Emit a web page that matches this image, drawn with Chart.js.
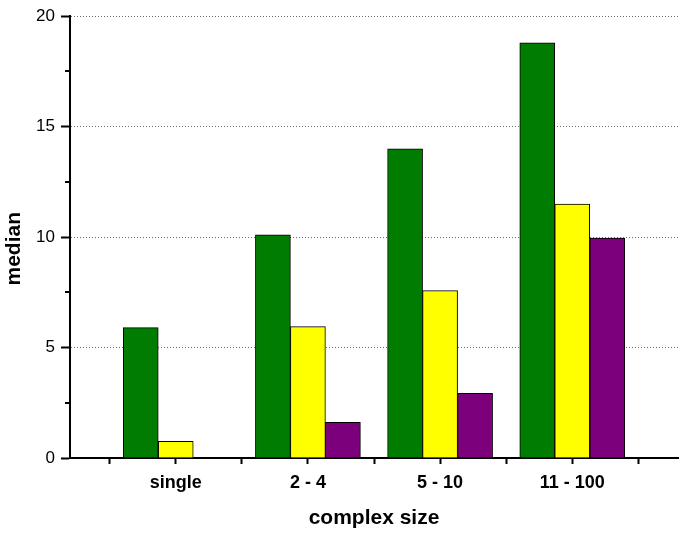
<!DOCTYPE html>
<html>
<head>
<meta charset="utf-8">
<script src="https://cdn.jsdelivr.net/npm/chart.js@4.4.1/dist/chart.umd.min.js"></script>
<style>
  html, body { margin: 0; padding: 0; background: #fff; }
  #wrap { width: 685px; height: 533px; }
</style>
</head>
<body>
<div id="wrap"><canvas id="chart" width="685" height="533"></canvas></div>
<script>
const categories = ['single', '2 - 4', '5 - 10', '11 - 100'];
const greenValues = [5.9, 10.1, 14.0, 18.8];
const yellowValues = [0.75, 5.95, 7.58, 11.5];
const purpleValues = [null, 1.62, 2.93, 9.95];
const yTicks = [0, 5, 10, 15, 20];

const font = 'Liberation Sans';

// category centres and the boundaries between them get tick marks
const xTickValues = [];
categories.forEach((c, i) => { xTickValues.push(i - 0.5, i); });
xTickValues.push(categories.length - 0.5);

function toPoints(values) {
    return values.map((v, i) => ({ x: i, y: v }));
}

const minorTicks = {
    id: 'minorTicks',
    afterDraw(chart) {
        const y = chart.scales.y;
        const ctx = chart.ctx;
        ctx.save();
        ctx.strokeStyle = '#000';
        ctx.lineWidth = 2;
        for (let i = 0; i < yTicks.length - 1; i++) {
            const py = Math.round(y.getPixelForValue((yTicks[i] + yTicks[i + 1]) / 2));
            ctx.beginPath();
            ctx.moveTo(y.right - 5, py);
            ctx.lineTo(y.right, py);
            ctx.stroke();
        }
        ctx.restore();
    }
};

new Chart(document.getElementById('chart'), {
    type: 'bar',
    data: {
        datasets: [
            { label: 'a', data: toPoints(greenValues), backgroundColor: '#007c00', borderColor: '#000', borderWidth: 1 },
            { label: 'b', data: toPoints(yellowValues), backgroundColor: '#ffff00', borderColor: '#000', borderWidth: 1 },
            { label: 'c', data: toPoints(purpleValues), backgroundColor: '#7c007c', borderColor: '#000', borderWidth: 1 }
        ]
    },
    options: {
        responsive: false,
        animation: false,
        barThickness: 35,
        layout: { padding: { top: 12, right: 7, left: 0, bottom: 0 } },
        plugins: {
            legend: { display: false },
            tooltip: { enabled: false }
        },
        scales: {
            x: {
                type: 'linear',
                offset: false,
                min: -0.8,
                max: categories.length - 0.2,
                afterBuildTicks: s => { s.ticks = xTickValues.map(v => ({ value: v })); },
                afterFit: s => { s.height = 75; },
                grid: { offset: false, drawOnChartArea: false, drawTicks: true, tickLength: 6, tickColor: '#000', tickWidth: 2 },
                border: { color: '#000', width: 2 },
                ticks: {
                    autoSkip: false,
                    maxRotation: 0,
                    padding: 8,
                    color: '#000',
                    font: { family: font, size: 18, weight: 'bold' },
                    callback: v => Number.isInteger(v) ? categories[v] : ''
                },
                title: {
                    display: true,
                    text: 'complex size',
                    color: '#000',
                    font: { family: font, size: 21, weight: 'bold' },
                    padding: { top: 0, bottom: 2 }
                }
            },
            y: {
                min: 0,
                max: 20,
                afterBuildTicks: s => { s.ticks = yTicks.map(v => ({ value: v })); },
                afterFit: s => { s.width = 70; },
                grid: {
                    color: c => c.tick && c.tick.value === 0 ? 'rgba(0,0,0,0)' : '#6e6e6e',
                    lineWidth: 1,
                    tickLength: 9,
                    tickColor: '#000',
                    tickWidth: 2,
                    tickBorderDash: []
                },
                border: { color: '#000', width: 2, dash: [1, 2] },
                ticks: {
                    padding: 6,
                    color: '#000',
                    font: { family: font, size: 17 }
                },
                title: {
                    display: true,
                    text: 'median    ',
                    color: '#000',
                    font: { family: font, size: 21, weight: 'bold' },
                    padding: { top: 2, bottom: 0 }
                }
            }
        }
    },
    plugins: [minorTicks]
});
</script>
</body>
</html>
